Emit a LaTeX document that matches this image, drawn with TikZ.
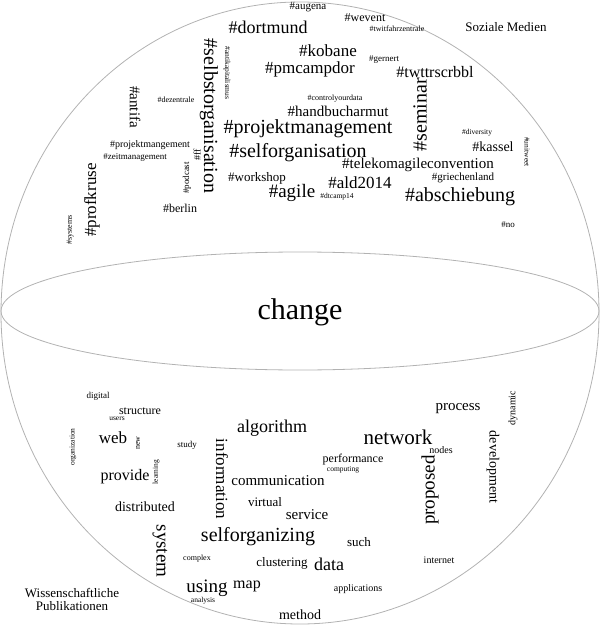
\documentclass[tikz,border=0pt]{standalone}
\usepackage{fontspec}
\setmainfont{Liberation Serif}
\usepackage{tikz}
\usetikzlibrary{positioning}

\begin{document}
\begin{tikzpicture}[
  x=1pt, y=-1pt,
  word/.style={inner sep=0pt, font=\fontsize{#1}{#1}\selectfont},
  up/.style={rotate=90},
  down/.style={rotate=-90},
  outline/.style={draw=black!30, line width=0.8pt},
]
\useasboundingbox (0,0) rectangle (600,628);
\draw[outline] (300,313) ellipse [x radius=299, y radius=311];
\draw[outline] (300,311) ellipse [x radius=299, y radius=59];

% upper half
\node (augena)   [word=11] at (308,7)   {\#augena};
\node (wevent)   [word=12] at (365,18)  {\#wevent};
\node (twitfz)   [word=8]  at (397,29)  {\#twitfahrzentrale};
\node (dortmund) [word=18] at (268,27)  {\#dortmund};
\node (social)   [word=13] at (506,27)  {Soziale Medien};
\node (selbst)   [word=20,down] at (209,116) {\#selbstorganisation};
\node (antikap)  [word=7.5,down]  at (227,73)  {\#antikapitalismus};
\node (kobane)   [word=17] at (328,51)  {\#kobane};
\node (gernert)  [word=9]  at (384,60)  {\#gernert};
\node (pmcamp)   [word=17] at (310,69)  {\#pmcampdor};
\node (twttr)    [word=16] at (435,72)  {\#twttrscrbbl};
\node (antifa)   [word=15,down] at (135,107) {\#antifa};
\node (dezentr)  [word=8]  at (176,100) {\#dezentrale};
\node (control)  [word=8]  at (335,99)  {\#controlyourdata};
\node (handbuch) [word=15] at (338,111) {\#handbucharmut};
\node (seminar)  [word=20,up]   at (420,115) {\#seminar};
\node (projekt)  [word=20] at (308,129) {\#projektmanagement};
\node (diversity)[word=7.5]  at (477,133) {\#diversity};
\node (unitweet) [word=7.5,down]  at (527,152) {\#unitweet};
\node (kassel)   [word=14] at (493,147) {\#kassel};
\node (projmang) [word=10] at (150,145) {\#projektmangement};
\node (zeit)     [word=9]  at (135,157) {\#zeitmanagement};
\node (ff)       [word=10,up]   at (197,155) {\#ff};
\node (podcast)  [word=9,up]    at (187,178) {\#podcast};
\node (selforg)  [word=20] at (298,153) {\#selforganisation};
\node (telekom)  [word=15] at (418,165) {\#telekomagileconvention};
\node (profkruse)[word=17,up]   at (92,200)  {\#profkruse};
\node (workshop) [word=13] at (257,178) {\#workshop};
\node (ald)      [word=17] at (360,183) {\#ald2014};
\node (griechen) [word=11] at (463,178) {\#griechenland};
\node (agile)    [word=19] at (292,193) {\#agile};
\node (dtcamp)   [word=7.5]  at (337,197) {\#dtcamp14};
\node (abschieb) [word=20] at (460,197) {\#abschiebung};
\node (berlin)   [word=12] at (180,208) {\#berlin};
\node (no)       [word=9]  at (508,225) {\#no};
\node (systems)  [word=8,up]    at (70,230)  {\#systems};

% equator
\node (change)   [word=30] at (300,312) {change};

% lower half
\node (digital)  [word=9]  at (98,396)  {digital};
\node (structure)[word=12] at (140,411) {structure};
\node (users)    [word=7.5]  at (117,419) {users};
\node (organiz)  [word=7.5,up]    at (73,447)  {organization};
\node (web)      [word=17] at (113,438) {web};
\node (new)      [word=8,up]    at (138,443) {new};
\node (study)    [word=9]  at (187,445) {study};
\node (algorithm)[word=18] at (272,428) {algorithm};
\node (inform)   [word=17,down] at (222,479) {information};
\node (network)  [word=21] at (398,437) {network};
\node (nodes)    [word=10] at (441,450) {nodes};
\node (process)  [word=15] at (458,409) {process};
\node (dynamic)  [word=10,up]   at (513,408) {dynamic};
\node (develop)  [word=14,down] at (493,467) {development};
\node (proposed) [word=19,up]   at (430,490) {proposed};
\node (perform)  [word=12] at (353,460) {performance};
\node (computing)[word=7.5]  at (343,470) {computing};
\node (provide)  [word=16] at (125,477) {provide};
\node (learning) [word=7.5,up]    at (156,472) {learning};
\node (communic) [word=15] at (278,481) {communication};
\node (virtual)  [word=13] at (265,502) {virtual};
\node (distrib)  [word=14] at (145,507) {distributed};
\node (service)  [word=15] at (307,515) {service};
\node (system)   [word=19,down] at (160,551) {system};
\node (selforgz) [word=20] at (258,537) {selforganizing};
\node (such)     [word=13] at (359,542) {such};
\node (complex)  [word=8]  at (197,559) {complex};
\node (cluster)  [word=13] at (282,563) {clustering};
\node (data)     [word=18] at (329,564) {data};
\node (internet) [word=10] at (439,560) {internet};
\node (using)    [word=19] at (207,588) {using};
\node (map)      [word=16] at (247,586) {map};
\node (applic)   [word=10] at (358,589) {applications};
\node (analysis) [word=7.5]  at (203,601) {analysis};
\node (method)   [word=14] at (300,615) {method};
\node (science)  [word=13, align=center] at (72,599) {Wissenschaftliche\\Publikationen};
\end{tikzpicture}
\end{document}
